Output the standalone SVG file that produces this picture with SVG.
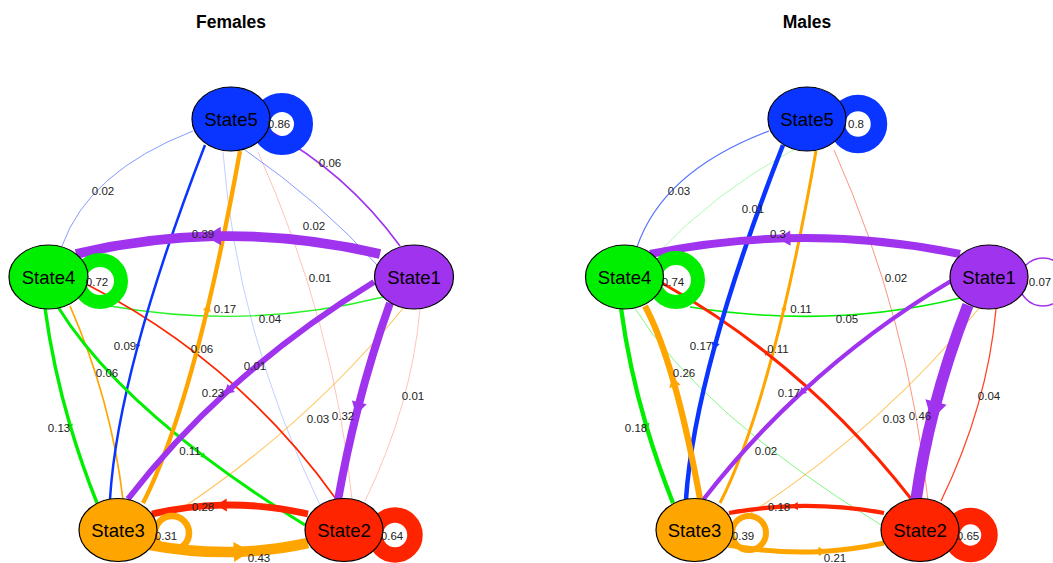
<svg xmlns="http://www.w3.org/2000/svg" width="1053" height="563" viewBox="0 0 1053 563">
<style>
.e{fill:none}
.p{stroke:#A033EE}.r{stroke:#FF2400}.o{stroke:#FFA500}.g{stroke:#00EE00}.b{stroke:#0A34FF}
.lp{fill:none}
.n ellipse{stroke:#000;stroke-width:1.2}
.nt{font-family:"Liberation Sans",Arial,sans-serif;font-size:18.5px;text-anchor:middle;fill:#000}
.el{font-family:"Liberation Sans",Arial,sans-serif;font-size:11.5px;text-anchor:middle;fill:#222}
.title{font-family:"Liberation Sans",Arial,sans-serif;font-size:17.5px;font-weight:bold;text-anchor:middle;fill:#000}
</style>
<defs>
<marker id="aP" viewBox="-1 -1 2 2" refX="0" refY="0" markerWidth="2" markerHeight="2" orient="auto" markerUnits="strokeWidth"><path d="M0.9,0 L-0.7,-0.95 L-0.7,0.95 Z" fill="#A033EE"/></marker>
<marker id="aR" viewBox="-1 -1 2 2" refX="0" refY="0" markerWidth="2" markerHeight="2" orient="auto" markerUnits="strokeWidth"><path d="M0.9,0 L-0.7,-0.95 L-0.7,0.95 Z" fill="#FF2400"/></marker>
<marker id="aO" viewBox="-1 -1 2 2" refX="0" refY="0" markerWidth="2" markerHeight="2" orient="auto" markerUnits="strokeWidth"><path d="M0.9,0 L-0.7,-0.95 L-0.7,0.95 Z" fill="#FFA500"/></marker>
<marker id="aG" viewBox="-1 -1 2 2" refX="0" refY="0" markerWidth="2" markerHeight="2" orient="auto" markerUnits="strokeWidth"><path d="M0.9,0 L-0.7,-0.95 L-0.7,0.95 Z" fill="#00EE00"/></marker>
<marker id="aB" viewBox="-1 -1 2 2" refX="0" refY="0" markerWidth="2" markerHeight="2" orient="auto" markerUnits="strokeWidth"><path d="M0.9,0 L-0.7,-0.95 L-0.7,0.95 Z" fill="#0A34FF"/></marker>
</defs>
<rect width="1053" height="563" fill="#fff"/>
<text class="title" x="231" y="28">Females</text>
<text class="title" x="807" y="28">Males</text>

<g id="connectors-females">
<path class="e b" stroke-width="0.8" stroke-opacity="0.3" d="M223,152 Q236.5,331.5 320,505"/>
<path class="e r" stroke-width="0.8" stroke-opacity="0.35" d="M352,500 Q335,324 258,152"/>
<path class="e r" stroke-width="0.8" stroke-opacity="0.35" d="M365,501 Q411.5,405 420,309"/>
<path class="e b" stroke-width="0.9" stroke-opacity="0.55" d="M193,131 Q88.5,171.5 62,246"/>
<path class="e b" stroke-width="0.9" stroke-opacity="0.55" d="M245,150 Q321,202.5 377,265"/>
<path class="e o" stroke-width="1.1" stroke-opacity="0.65" d="M156,525 Q298.7,436 405,306"/>
<path class="e g" stroke-width="1.3" stroke-opacity="0.85" d="M110,306 Q249.5,330.5 383,297"/>
<path class="e p" stroke-width="1.7" d="M400,246 Q346,172 268,130"/>
<path class="e r" stroke-width="1.7" d="M336,499 Q238,362 88,285"/>
<path class="e o" stroke-width="1.7" d="M123,500 Q111.5,401 70,306"/>
<path class="e b" stroke-width="2.5" marker-mid="url(#aB)" d="M205,145 Q161.5,257.5 137.75,346 Q114,434.5 110,499"/>
<path class="e g" stroke-width="3" marker-mid="url(#aG)" d="M58,307 Q103.5,380.1 203.8,456.1 Q248.9,490.3 305,525"/>
<path class="e g" stroke-width="3.4" marker-mid="url(#aG)" d="M45,308 Q52.9,367.2 70.5,426.7 Q81.8,464.8 97,503"/>
<path class="e o" stroke-width="4.3" marker-mid="url(#aO)" d="M143,503 Q176.8,436.7 207.6,307.9 Q224.25,238.5 240,151"/>
<path class="e p" stroke-width="5.8" marker-mid="url(#aP)" d="M374,282 Q293.5,331.4 228.2,390.7 Q172.6,441.3 128,499"/>
<path class="e r" stroke-width="6.8" marker-mid="url(#aR)" d="M308,514 Q265,504.1 222,505.1 Q187,505.9 152,514"/>
<circle class="lp o" cx="172" cy="533" r="17" stroke-width="6.5"/>
<path class="e p" stroke-width="8" marker-mid="url(#aP)" d="M390,303 Q371.6,354.6 357.9,407.9 Q346.3,453.3 338,500"/>
<path class="e p" stroke-width="9.8" marker-mid="url(#aP)" d="M380,254 Q297,234.3 214,236.2 Q145,237.7 76,254"/>
<path class="e o" stroke-width="10.5" marker-mid="url(#aO)" d="M150,545 Q196.2,553.6 241.1,551.7 Q274.9,550.3 308,543"/>
<circle class="lp r" cx="395" cy="535" r="20" stroke-width="15.5"/>
<circle class="lp g" cx="100" cy="281" r="21" stroke-width="14"/>
<circle class="lp b" cx="282" cy="124" r="21.5" stroke-width="19"/>
</g>

<g id="connectors-males">
<path class="e g" stroke-width="0.8" stroke-opacity="0.4" d="M657,254 Q715,192 793,150"/>
<path class="e r" stroke-width="0.9" stroke-opacity="0.55" d="M928,501 Q909,318.5 834,150"/>
<path class="e g" stroke-width="0.9" stroke-opacity="0.55" d="M634,307 Q700,413 881,525"/>
<path class="e b" stroke-width="1.1" stroke-opacity="0.7" d="M769,131 Q663,171 637,247"/>
<path class="e o" stroke-width="1.1" stroke-opacity="0.65" d="M732,525 Q874.7,436 981,306"/>
<path class="e r" stroke-width="1.3" stroke-opacity="0.85" d="M941,501 Q987.5,405 996,309"/>
<path class="e g" stroke-width="1.5" d="M690,307 Q831,329.5 960,298"/>
<circle class="lp p" cx="1043" cy="282" r="24" stroke-width="1.6"/>
<path class="e o" stroke-width="3" marker-mid="url(#aO)" d="M720,503 Q753.8,436.7 784.2,307.9 Q800.6,238.5 816,151"/>
<path class="e r" stroke-width="3" marker-mid="url(#aR)" d="M912,500 Q846.3,415.7 765.9,352.5 Q716.7,313.8 662,283"/>
<path class="e b" stroke-width="4.5" marker-mid="url(#aB)" d="M783,145 Q739,257.5 714.75,346 Q690.5,434.5 686,499"/>
<path class="e p" stroke-width="4.3" marker-mid="url(#aP)" d="M951,281 Q870,329.2 802,392.1 Q748.5,441.5 703,500"/>
<path class="e g" stroke-width="4.3" marker-mid="url(#aG)" d="M621,308 Q628.9,367.2 646.5,426.7 Q657.8,464.8 673,503"/>
<path class="e r" stroke-width="4.3" marker-mid="url(#aR)" d="M884,513 Q839.2,505 794.8,506.1 Q761.8,507 729,513"/>
<path class="e o" stroke-width="5" marker-mid="url(#aO)" d="M728,545 Q775,554 822,551.4 Q853,549.7 884,543"/>
<path class="e o" stroke-width="6.2" marker-mid="url(#aO)" d="M700,499 Q687.5,430.5 673.75,382.25 Q660,334 645,306"/>
<path class="e p" stroke-width="8" marker-mid="url(#aP)" d="M960,254 Q872.4,235.9 784.8,238.3 Q717.4,240.1 650,254"/>
<circle class="lp o" cx="749" cy="533" r="17" stroke-width="6"/>
<path class="e p" stroke-width="11.5" marker-mid="url(#aP)" d="M968,305 Q947.5,357.1 934,409.8 Q922.4,454.7 916,500"/>
<circle class="lp r" cx="970.5" cy="535" r="19" stroke-width="16.5"/>
<circle class="lp g" cx="676" cy="280" r="22" stroke-width="14"/>
<circle class="lp b" cx="858" cy="124" r="21" stroke-width="16.5"/>
</g>

<g id="f-state5" class="n"><ellipse cx="231" cy="119" rx="39" ry="32" fill="#0A34FF"/><text class="nt" x="231" y="126">State5</text></g>
<g id="f-state4" class="n"><ellipse cx="48.5" cy="277" rx="39.5" ry="32" fill="#00EE00"/><text class="nt" x="48.5" y="284">State4</text></g>
<g id="f-state1" class="n"><ellipse cx="414" cy="277" rx="39.5" ry="32" fill="#A033EE"/><text class="nt" x="414" y="284">State1</text></g>
<g id="f-state3" class="n"><ellipse cx="118" cy="530" rx="39" ry="31.5" fill="#FFA500"/><text class="nt" x="118" y="537">State3</text></g>
<g id="f-state2" class="n"><ellipse cx="344" cy="530" rx="39" ry="31.5" fill="#FF2400"/><text class="nt" x="344" y="537">State2</text></g>

<g id="m-state5" class="n"><ellipse cx="807" cy="119" rx="39" ry="32" fill="#0A34FF"/><text class="nt" x="807" y="126">State5</text></g>
<g id="m-state4" class="n"><ellipse cx="624.5" cy="277" rx="39" ry="32" fill="#00EE00"/><text class="nt" x="624.5" y="284">State4</text></g>
<g id="m-state1" class="n"><ellipse cx="989" cy="277" rx="39" ry="32" fill="#A033EE"/><text class="nt" x="989" y="284">State1</text></g>
<g id="m-state3" class="n"><ellipse cx="694.5" cy="530" rx="38.5" ry="31.5" fill="#FFA500"/><text class="nt" x="694.5" y="537">State3</text></g>
<g id="m-state2" class="n"><ellipse cx="920" cy="530" rx="39" ry="31.5" fill="#FF2400"/><text class="nt" x="920" y="537">State2</text></g>

<g id="edge-labels">
<text class="el" x="103" y="195">0.02</text>
<text class="el" x="330" y="167">0.06</text>
<text class="el" x="314" y="230">0.02</text>
<text class="el" x="203" y="238">0.39</text>
<text class="el" x="320" y="282">0.01</text>
<text class="el" x="97" y="286">0.72</text>
<text class="el" x="279" y="128">0.86</text>
<text class="el" x="225" y="313">0.17</text>
<text class="el" x="270" y="323">0.04</text>
<text class="el" x="125" y="350">0.09</text>
<text class="el" x="202" y="353">0.06</text>
<text class="el" x="107" y="377">0.06</text>
<text class="el" x="255" y="370">0.01</text>
<text class="el" x="213" y="397">0.23</text>
<text class="el" x="413" y="400">0.01</text>
<text class="el" x="318" y="423">0.03</text>
<text class="el" x="343" y="420">0.32</text>
<text class="el" x="59" y="432">0.13</text>
<text class="el" x="190" y="455">0.11</text>
<text class="el" x="203" y="511">0.28</text>
<text class="el" x="166" y="540">0.31</text>
<text class="el" x="392" y="540">0.64</text>
<text class="el" x="259" y="562">0.43</text>

<text class="el" x="679" y="195">0.03</text>
<text class="el" x="753" y="213">0.01</text>
<text class="el" x="778" y="238">0.3</text>
<text class="el" x="896" y="282">0.02</text>
<text class="el" x="673" y="286">0.74</text>
<text class="el" x="856" y="128">0.8</text>
<text class="el" x="1040" y="286">0.07</text>
<text class="el" x="801" y="313">0.11</text>
<text class="el" x="847" y="323">0.05</text>
<text class="el" x="701" y="350">0.17</text>
<text class="el" x="778" y="353">0.11</text>
<text class="el" x="684" y="377">0.26</text>
<text class="el" x="789" y="397">0.17</text>
<text class="el" x="894" y="423">0.03</text>
<text class="el" x="920" y="420">0.46</text>
<text class="el" x="989" y="400">0.04</text>
<text class="el" x="636" y="432">0.18</text>
<text class="el" x="766" y="455">0.02</text>
<text class="el" x="779" y="511">0.18</text>
<text class="el" x="743" y="540">0.39</text>
<text class="el" x="968" y="540">0.65</text>
<text class="el" x="835" y="562">0.21</text>
</g>
</svg>
